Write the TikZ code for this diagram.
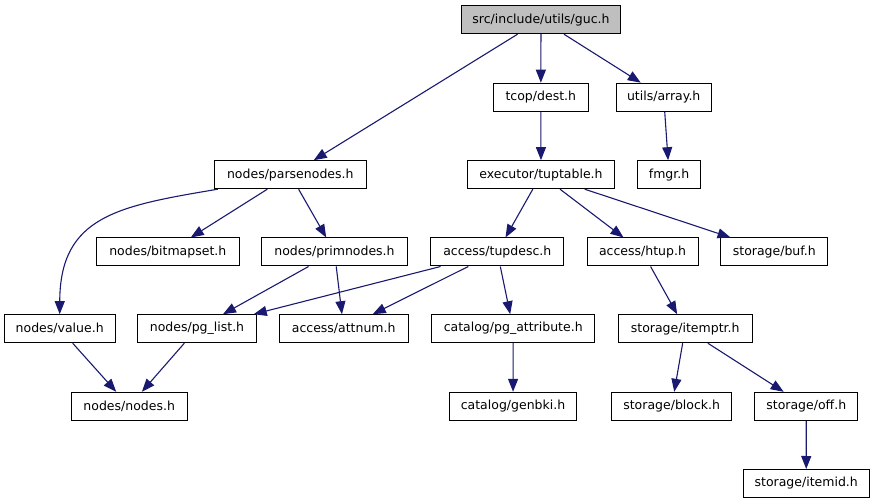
\documentclass[tikz,border=0pt]{standalone}
\usepackage{fontspec}
\setmainfont{DejaVu Sans}
\usetikzlibrary{arrows.meta}
\definecolor{edgeblue}{HTML}{191970}
\definecolor{rootfill}{HTML}{BFBFBF}
\tikzset{
  filebox/.style={draw=black, line width=1bp, fill=white, inner sep=0pt,
    minimum height=28bp, font=\fontsize{12.5bp}{14bp}\selectfont},
  rootbox/.style={filebox, fill=rootfill},
  dep/.style={draw=edgeblue, line width=1.1bp,
    -{Triangle[length=13bp,width=10bp,fill=edgeblue]}}
}
\begin{document}
\begin{tikzpicture}[x=1bp,y=-1bp]
\useasboundingbox (0,0) rectangle (875,504);
\node[rootbox, minimum width=158.6bp] (guc) at (541,19.7) {src/include/utils/guc.h};
\node[filebox, minimum width=95bp] (dest) at (540.8,97.2) {tcop/dest.h};
\node[filebox, minimum width=94.7bp] (array) at (663.7,97.2) {utils/array.h};
\node[filebox, minimum width=152bp] (parsenodes) at (290.3,174.7) {nodes/parsenodes.h};
\node[filebox, minimum width=146.6bp] (tuptable) at (541,174.7) {executor/tuptable.h};
\node[filebox, minimum width=62.8bp] (fmgr) at (669.1,174.7) {fmgr.h};
\node[filebox, minimum width=143bp] (bitmapset) at (167.8,252) {nodes/bitmapset.h};
\node[filebox, minimum width=145.6bp] (primnodes) at (334.5,252) {nodes/primnodes.h};
\node[filebox, minimum width=133.3bp] (tupdesc) at (497.3,252) {access/tupdesc.h};
\node[filebox, minimum width=111bp] (htup) at (642.5,252) {access/htup.h};
\node[filebox, minimum width=106.7bp] (buf) at (774.3,252) {storage/buf.h};
\node[filebox, minimum width=110.7bp] (value) at (59.7,328.7) {nodes/value.h};
\node[filebox, minimum width=118.6bp] (pglist) at (197,328.7) {nodes/pg\_list.h};
\node[filebox, minimum width=129.3bp] (attnum) at (343.7,328.7) {access/attnum.h};
\node[filebox, minimum width=163bp] (pgattr) at (513.2,328.7) {catalog/pg\_attribute.h};
\node[filebox, minimum width=133.7bp] (itemptr) at (685.2,328.7) {storage/itemptr.h};
\node[filebox, minimum width=116.3bp] (nodes) at (129.2,406.3) {nodes/nodes.h};
\node[filebox, minimum width=126.6bp] (genbki) at (513,406.3) {catalog/genbki.h};
\node[filebox, minimum width=120bp] (block) at (671.7,406.3) {storage/block.h};
\node[filebox, minimum width=102.7bp] (off) at (806.3,406.3) {storage/off.h};
\node[filebox, minimum width=126.3bp] (itemid) at (806.2,483.5) {storage/itemid.h};

\draw[dep] (guc) -- (parsenodes);
\draw[dep] (guc) -- (dest);
\draw[dep] (guc) -- (array);
\draw[dep] (dest) -- (tuptable);
\draw[dep] (array) -- (fmgr);
\draw[dep] ([xshift=4bp]parsenodes.south west) .. controls (118,206) and (60,216) .. (value.north);
\draw[dep] (parsenodes) -- (bitmapset);
\draw[dep] (parsenodes) -- (primnodes);
\draw[dep] (tuptable) -- (tupdesc);
\draw[dep] (tuptable) -- (htup);
\draw[dep] (tuptable) -- (buf);
\draw[dep] (primnodes) -- (pglist);
\draw[dep] (primnodes) -- (attnum);
\draw[dep] (tupdesc) -- (pglist);
\draw[dep] (tupdesc) -- (attnum);
\draw[dep] (tupdesc) -- (pgattr);
\draw[dep] (htup) -- (itemptr);
\draw[dep] (value) -- (nodes);
\draw[dep] (pglist) -- (nodes);
\draw[dep] (pgattr) -- (genbki);
\draw[dep] (itemptr) -- (block);
\draw[dep] (itemptr) -- (off);
\draw[dep] (off) -- (itemid);
\end{tikzpicture}
\end{document}
